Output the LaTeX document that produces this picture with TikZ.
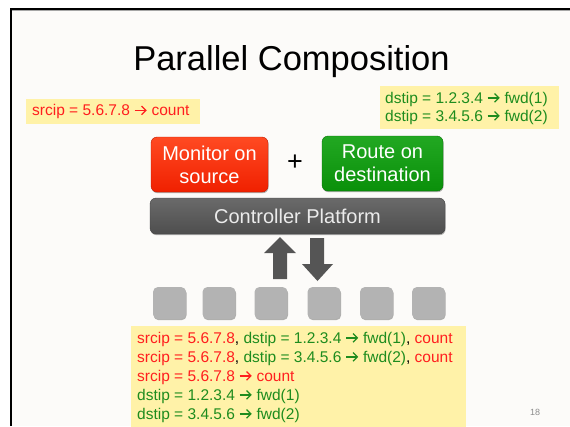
\documentclass[tikz,border=0pt]{standalone}
\usepackage{fontspec}
\setmainfont{Liberation Sans}
\usetikzlibrary{shadows}

\definecolor{pagebg}{HTML}{FCFBF9}
\definecolor{notebg}{HTML}{FFF2A8}
\definecolor{srcred}{HTML}{FF1E1E}
\definecolor{dstgreen}{HTML}{1E8C1E}
\definecolor{monredtop}{HTML}{FF4A22}
\definecolor{monredbot}{HTML}{F02000}
\definecolor{routetop}{HTML}{22A822}
\definecolor{routebot}{HTML}{0A900A}
\definecolor{plattop}{HTML}{6A6A6A}
\definecolor{platbot}{HTML}{4E4E4E}
\definecolor{switchgray}{HTML}{B3B3B3}
\definecolor{arrowgray}{HTML}{555555}

% open chevron arrow used inside the rules
\newcommand{\ruleto}{\tikz[x=1bp,y=1bp,baseline=0pt]{%
  \useasboundingbox (0,0) rectangle (13,10);
  \draw[line width=1.25bp, line join=miter] (0.3,5.1) -- (11.6,5.1);
  \draw[line width=1.25bp, line join=miter] (7.3,0.8) -- (11.6,5.1) -- (7.3,9.4);}}

\tikzset{
  softshadow/.style={drop shadow={shadow xshift=0.6bp, shadow yshift=-1.2bp,
      opacity=0.3, fill=black}},
  policybox/.style={rounded corners=6bp, softshadow, text=white, align=center,
      font=\fontsize{20bp}{23bp}\selectfont, inner sep=0pt},
  switchbox/.style={rounded corners=5bp, fill=switchgray, softshadow,
      minimum width=33bp, minimum height=32bp, inner sep=0pt},
  note/.style={fill=notebg, inner sep=0pt},
  notetext/.style={anchor=west, align=left, inner sep=0pt,
      font=\fontsize{15.5bp}{19bp}\selectfont},
  blockarrow/.style={fill=arrowgray, draw=none},
}

\begin{document}
\begin{tikzpicture}[x=1bp,y=-1bp]
  \useasboundingbox (0,0) rectangle (570,426);
  \fill[white] (0,0) rectangle (570,426);

  % slide area and its frame
  \fill[pagebg] (11,9) rectangle (570,426);
  \draw[black!35, line width=1bp] (12,10.8) -- (570,10.8);
  \draw[black, line width=2.5bp] (11,426) -- (11,9) -- (570,9);

  % title
  \node[font=\fontsize{34.5bp}{40bp}\selectfont, inner sep=0pt] (title) at (291.5,62) {Parallel Composition};

  % policy notes at the top
  \node[note, minimum width=174bp, minimum height=25bp] (srcnote) at (113,111.5) {};
  \node[notetext, text=srcred] (srctext) at (32,111.5) {srcip = 5.6.7.8 \ruleto{} count};

  \node[note, minimum width=179bp, minimum height=43bp] (dstnote) at (469.5,107.5) {};
  \node[notetext, text=dstgreen, font=\fontsize{15.5bp}{18bp}\selectfont] (dsttext) at (385,108)
    {dstip = 1.2.3.4 \ruleto{} fwd(1)\\dstip = 3.4.5.6 \ruleto{} fwd(2)};

  % the two modules and the platform
  \node[policybox, top color=monredtop, bottom color=monredbot, draw=monredbot!80!black,
        minimum width=117bp, minimum height=55bp] (monitor) at (209.5,164.5)
        {Monitor on\\source};
  \node[font=\fontsize{27bp}{30bp}\selectfont, inner sep=0pt] (plus) at (295,163) {+};
  \node[policybox, top color=routetop, bottom color=routebot, draw=routebot!80!black,
        minimum width=121bp, minimum height=55bp] (route) at (382.5,163.5)
        {Route on\\destination};
  \node[policybox, top color=plattop, bottom color=platbot, draw=platbot!85!black,
        text=black!8, minimum width=295bp, minimum height=36bp] (platform) at (297.5,216)
        {Controller Platform};

  % traffic between platform and switches
  \fill[blockarrow] (280,237) -- (296,253) -- (287,253) -- (287,279)
                    -- (273,279) -- (273,253) -- (264,253) -- cycle;
  \fill[blockarrow] (317.5,281) -- (333,264) -- (324,264) -- (324,238)
                    -- (310,238) -- (310,264) -- (302,264) -- cycle;

  % switches
  \node[switchbox] (s1) at (169.5,303) {};
  \node[switchbox] (s2) at (219,303) {};
  \node[switchbox] (s3) at (271,303) {};
  \node[switchbox] (s4) at (324,303) {};
  \node[switchbox] (s5) at (376.5,303) {};
  \node[switchbox] (s6) at (428.5,303) {};

  % composed rules
  \node[note, minimum width=335bp, minimum height=102bp] (rulenote) at (298.5,377) {};
  \node[notetext] (rules) at (137,377) {%
    \textcolor{srcred}{srcip = 5.6.7.8}, \textcolor{dstgreen}{dstip = 1.2.3.4 \ruleto{} fwd(1)}, \textcolor{srcred}{count}\\
    \textcolor{srcred}{srcip = 5.6.7.8}, \textcolor{dstgreen}{dstip = 3.4.5.6 \ruleto{} fwd(2)}, \textcolor{srcred}{count}\\
    \textcolor{srcred}{srcip = 5.6.7.8 \ruleto{} count}\\
    \textcolor{dstgreen}{dstip = 1.2.3.4 \ruleto{} fwd(1)}\\
    \textcolor{dstgreen}{dstip = 3.4.5.6 \ruleto{} fwd(2)}};

  % slide number
  \node[text=black!45, font=\fontsize{9bp}{10bp}\selectfont, inner sep=0pt] (pagenum) at (535,412) {18};
\end{tikzpicture}
\end{document}
